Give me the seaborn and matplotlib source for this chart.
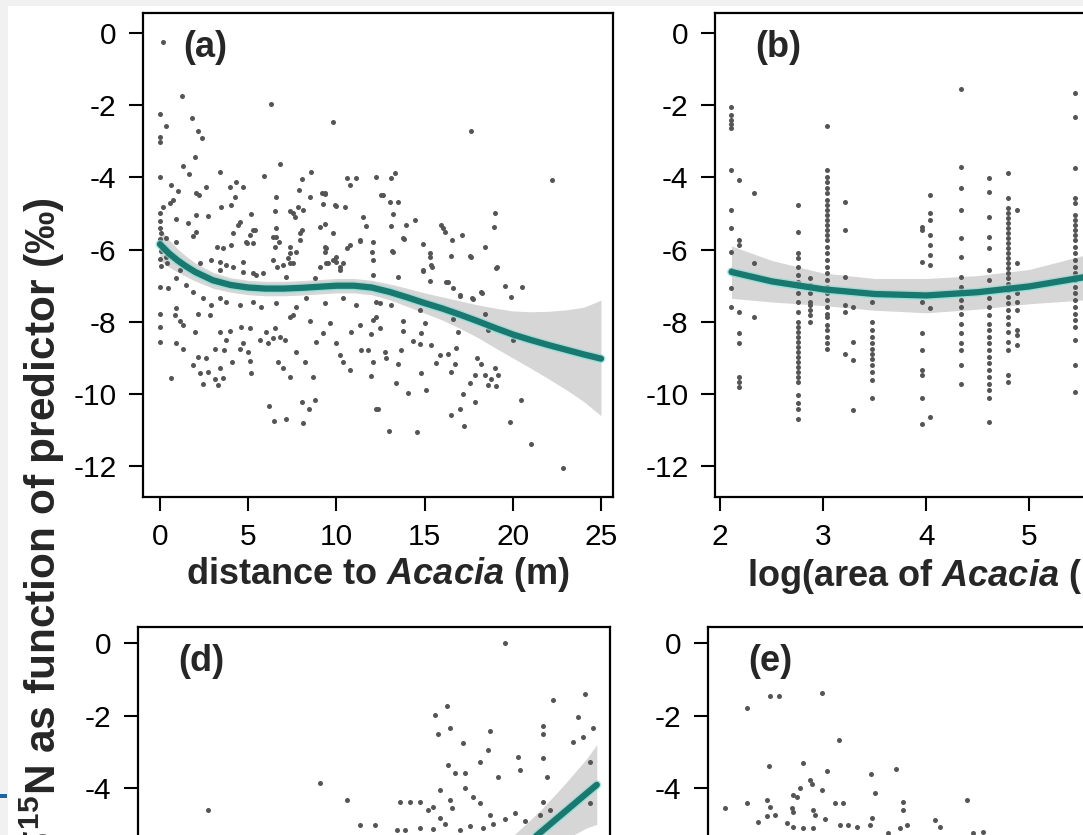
import matplotlib
matplotlib.use("Agg")
import matplotlib.pyplot as plt
from matplotlib.patches import Rectangle
import seaborn as sns
import pandas as pd

# ---- data ----------------------------------------------------------------
# (a) distance to Acacia (m) vs d15N
a_points = [
    (0.17, -0.25), (1.27, -1.76), (6.27, -1.97), (0.0, -2.25), (1.83, -2.36), (9.81, -2.47),
    (0.32, -2.58), (2.15, -2.71), (2.4, -2.92), (0.0, -2.87), (0.0, -3.01), (1.97, -3.45),
    (6.78, -3.63), (1.3, -3.68), (1.64, -3.91), (3.42, -3.86), (8.58, -3.84), (0.0, -4.0),
    (5.88, -3.96), (8.07, -4.05), (10.6, -4.03), (11.13, -4.03), (12.23, -4.0), (0.64, -4.21),
    (2.63, -4.28), (3.99, -4.26), (4.33, -4.12), (4.7, -4.28), (10.75, -4.21), (1.02, -4.38),
    (2.02, -4.42), (2.24, -4.49), (7.88, -4.35), (9.34, -4.42), (6.56, -4.55), (8.48, -4.55),
    (4.23, -4.55), (12.55, -4.49), (0.74, -4.63), (0.59, -4.72), (0.17, -4.81), (3.48, -4.83),
    (4.04, -4.77), (7.35, -4.92), (7.82, -4.81), (8.1, -4.9), (6.5, -4.92), (9.24, -4.74),
    (10.0, -4.79), (10.47, -4.81), (2.06, -5.04), (2.72, -5.07), (5.18, -5.01), (0.93, -5.16),
    (1.59, -5.27), (4.52, -5.23), (4.42, -5.32), (7.54, -5.0), (7.64, -5.09), (11.51, -5.09),
    (11.7, -5.34), (5.37, -5.46), (5.08, -5.6), (6.59, -5.39), (7.92, -5.53), (9.05, -5.37),
    (9.34, -5.29), (2.06, -5.5), (1.87, -5.62), (6.59, -5.64), (6.75, -5.78), (4.9, -5.78),
    (5.27, -5.83), (4.04, -5.87), (3.57, -5.97), (7.35, -6.09), (7.73, -6.06), (9.43, -5.97),
    (9.34, -6.06), (10.75, -5.87), (11.32, -5.73), (12.08, -5.78), (6.5, -5.92), (0.93, -5.78),
    (0.36, -5.69), (0.17, -5.92), (0.0, -5.0), (0.0, -5.2), (0.0, -5.4), (0.05, -5.55),
    (0.0, -5.7), (0.05, -6.05), (0.0, -6.25), (0.05, -6.45),
    (17.65, -2.71), (22.22, -4.07), (13.3, -3.89), (13.07, -4.03), (12.64, -4.49), (13.02, -4.67),
    (13.49, -4.67), (13.21, -5.01), (13.11, -5.34), (13.97, -5.32), (14.47, -5.18), (15.91, -5.32),
    (16.14, -5.5), (13.83, -5.72), (14.91, -5.84), (16.55, -5.73), (17.12, -5.6), (18.97, -4.98),
    (18.93, -5.37), (18.41, -5.94), (13.15, -6.03), (15.29, -6.1), (16.48, -6.17),
    (9.2, -4.43), (9.35, -4.45), (9.92, -4.77), (8.05, -5.46), (12.0, -6.07), (9.5, -6.37),
    (10.2, -6.48), (10.0, -6.2), (14.9, -6.56), (15.4, -6.48), (16.3, -6.9), (17.0, -7.26),
    (17.7, -7.34), (18.25, -7.2), (19.1, -6.48), (17.6, -6.18), (13.78, -5.68), (13.2, -6.07),
    (11.34, -5.76), (16.04, -5.4),
    (0.38, -6.37), (1.13, -6.56), (2.27, -6.37), (3.4, -6.56), (4.14, -6.48), (5.27, -6.65),
    (6.63, -6.48), (7.54, -6.37), (9.07, -6.48), (9.81, -6.29), (3.23, -5.93), (4.14, -5.54),
    (4.93, -5.82), (5.27, -5.46), (6.41, -5.65), (7.37, -5.93), (7.94, -5.73), (9.35, -5.93),
    (9.81, -5.54), (10.6, -5.96),
    (0.36, -6.2), (2.91, -6.29), (3.38, -6.33), (3.76, -6.43), (4.71, -6.33), (6.41, -6.29),
    (6.97, -6.43), (7.35, -6.38), (7.26, -6.24), (9.43, -6.38), (9.99, -6.33), (10.37, -6.38),
    (12.08, -6.29), (10.19, -6.57), (12.08, -6.7), (4.71, -6.61), (5.46, -6.7), (5.84, -6.66),
    (7.16, -6.75), (8.77, -6.8), (0.0, -7.03), (0.45, -7.07), (0.93, -6.8), (1.49, -6.98),
    (1.87, -7.17), (2.44, -7.35), (2.91, -7.54), (3.38, -7.35), (3.76, -7.44), (4.52, -7.54),
    (5.27, -7.44), (5.75, -7.58), (6.59, -7.49), (7.73, -7.58), (8.29, -7.35), (9.33, -7.49),
    (10.37, -7.35), (11.13, -7.54), (12.26, -7.44), (0.0, -7.79), (0.0, -8.14), (0.0, -8.57),
    (0.83, -7.81), (1.11, -7.99), (1.3, -8.09), (0.93, -7.63), (2.15, -7.79), (2.82, -7.81),
    (1.97, -8.27), (3.38, -8.27), (3.95, -8.26), (4.61, -8.14), (5.08, -8.16), (6.03, -8.27),
    (6.5, -8.18), (7.35, -7.86), (7.54, -7.81), (8.48, -7.99), (9.24, -8.32), (9.62, -8.04),
    (10.85, -8.29), (11.32, -8.09), (11.98, -8.35), (12.26, -7.86), (12.08, -7.95), (0.93, -8.6),
    (1.3, -8.74), (2.15, -8.97), (2.63, -9.01), (3.1, -8.74), (3.63, -8.78), (3.76, -8.5),
    (4.52, -8.74), (4.71, -8.6), (4.99, -8.83), (5.65, -8.5), (6.12, -8.6), (6.41, -8.46),
    (6.78, -8.41), (7.07, -8.5), (7.73, -8.83), (8.2, -9.1), (8.86, -8.57), (9.99, -8.6),
    (10.19, -8.92), (10.37, -9.1), (10.75, -9.34), (11.41, -8.78), (11.79, -8.78), (12.08, -9.1),
    (1.87, -9.2), (2.25, -9.43), (2.44, -9.71), (2.72, -9.38), (3.38, -9.29), (3.1, -9.57),
    (3.57, -9.55), (4.1, -9.12), (5.08, -9.09), (5.18, -9.43), (6.69, -9.1), (6.97, -9.27),
    (7.35, -9.52), (8.67, -9.52), (11.98, -9.49), (0.64, -9.55), (3.29, -9.75), (6.18, -10.32),
    (6.44, -10.74), (7.16, -10.69), (8.11, -10.79), (8.07, -10.21), (8.45, -10.4), (8.77, -10.17),
    (12.26, -10.42),
    (15.29, -6.2), (17.65, -6.2), (15.38, -6.43), (14.91, -6.59), (19.07, -6.5), (13.49, -6.75),
    (15.29, -6.87), (16.23, -6.91), (16.61, -7.05), (16.99, -7.28), (17.75, -7.37), (18.22, -7.18),
    (19.54, -7.0), (20.52, -7.03), (19.92, -7.3), (13.12, -7.54), (12.45, -7.49), (14.72, -7.67),
    (16.61, -7.92), (18.41, -7.77), (18.6, -8.23), (20.01, -8.5), (13.78, -7.99), (15.0, -8.04),
    (13.78, -8.26), (12.45, -8.18), (14.82, -8.32), (16.89, -8.29), (14.34, -8.53), (14.72, -8.62),
    (15.38, -8.64), (16.8, -8.72), (12.74, -8.83), (13.68, -8.78), (12.83, -9.01), (15.86, -8.92),
    (16.33, -8.9), (17.99, -8.99), (15.67, -9.15), (16.74, -9.18), (13.49, -9.18), (18.22, -9.18),
    (18.97, -9.29), (19.16, -9.46), (14.82, -9.43), (16.52, -9.38), (17.84, -9.47), (18.41, -9.47),
    (18.78, -9.57), (18.6, -9.75), (19.07, -9.77), (17.56, -9.7), (13.4, -9.68), (14.06, -9.98),
    (15.1, -9.89), (17.18, -10.01), (17.84, -10.21), (20.45, -10.17), (16.99, -10.4), (16.52, -10.58),
    (17.23, -10.88), (19.82, -10.77), (12.96, -11.03), (14.59, -11.04), (21.01, -11.37),
    (12.36, -10.4), (22.85, -12.05),
]
a_fit_x = [0, 0.5, 1, 1.5, 2, 3, 4, 5, 6, 7, 8, 9, 10, 11, 12, 13, 14, 15, 16, 17, 18,
           19, 20, 21, 22, 23, 24, 25]
a_fit = [-5.85, -6.1, -6.3, -6.47, -6.62, -6.85, -6.98, -7.05, -7.08, -7.08, -7.06, -7.03,
         -7.0, -7.0, -7.05, -7.17, -7.32, -7.48, -7.63, -7.8, -7.98, -8.17, -8.35, -8.5,
         -8.64, -8.77, -8.9, -9.02]
a_lo = [-6.3, -6.48, -6.62, -6.75, -6.87, -7.07, -7.18, -7.25, -7.28, -7.28, -7.26, -7.23,
        -7.2, -7.2, -7.25, -7.39, -7.57, -7.76, -7.95, -8.18, -8.43, -8.72, -9.0, -9.28,
        -9.57, -9.87, -10.2, -10.6]
a_hi = [-5.4, -5.72, -5.98, -6.19, -6.37, -6.63, -6.78, -6.85, -6.88, -6.88, -6.86, -6.83,
        -6.8, -6.8, -6.85, -6.95, -7.07, -7.2, -7.31, -7.42, -7.53, -7.62, -7.7, -7.72,
        -7.71, -7.67, -7.6, -7.4]

# (b) log(area of Acacia) vs d15N: values stacked at each tree
b_columns = {
    2.11: [-2.04, -2.27, -2.41, -2.52, -2.64, -3.8, -4.9, -5.41, -6.06, -6.57, -7.07, -7.58],
    2.18: [-4.07, -5.73, -5.87, -7.72, -8.32, -8.6, -9.52, -9.66, -9.8],
    2.33: [-4.42, -6.38, -7.86],
    2.76: [-4.76, -5.5, -6.1, -6.24, -6.47, -6.7, -6.89, -7.21, -7.44, -7.72, -8.0, -8.14, -8.28,
           -8.42, -8.55, -8.69, -8.83, -8.97, -9.11, -9.25, -9.39, -9.52, -9.66, -10.03, -10.26,
           -10.4, -10.68],
    2.87: [-6.8, -6.98, -7.21, -7.44, -7.54, -7.68, -7.82, -8.0],
    3.04: [-2.59, -3.8, -3.98, -4.12, -4.3, -4.44, -4.63, -4.76, -4.9, -5.04, -5.18, -5.32, -5.46,
           -5.6, -5.73, -5.92, -6.1, -6.29, -6.47, -6.66, -6.84, -7.03, -7.21, -7.4, -7.58, -7.77,
           -7.86, -8.09, -8.23, -8.42, -8.6, -8.74],
    3.21: [-4.67, -5.46, -6.75, -7.53, -7.72, -8.88],
    3.29: [-7.58, -8.55, -9.06, -10.45],
    3.47: [-7.44, -8.0, -8.23, -8.42, -8.6, -8.74, -8.88, -9.02, -9.2, -9.39, -9.62, -10.12],
    3.96: [-5.37, -5.46, -6.33, -7.44, -8.32, -8.79, -9.34, -9.48, -10.12, -10.82],
    4.04: [-4.49, -4.99, -5.18, -5.6, -5.87, -6.15, -6.43, -7.63, -10.63],
    4.34: [-1.56, -3.7, -4.3, -4.9, -5.69, -6.2, -6.75, -7.03, -7.21, -7.4, -7.58, -7.77, -8.05,
           -8.32, -8.6, -8.79, -9.2, -9.71],
    4.61: [-4.03, -4.4, -5.09, -5.64, -5.96, -6.57, -6.84, -7.12, -7.35, -7.58, -7.81, -8.05,
           -8.23, -8.42, -8.6, -8.79, -8.97, -9.15, -9.34, -9.52, -9.71, -9.89, -10.12, -10.77],
    4.79: [-3.89, -4.58, -4.86, -4.99, -5.13, -5.27, -5.41, -5.55, -5.69, -5.83, -5.96, -6.1,
           -6.24, -6.38, -6.52, -6.66, -6.8, -6.94, -7.12, -7.3, -7.49, -7.67, -7.86, -8.05,
           -8.28, -8.55, -8.79, -9.48, -9.66],
    4.88: [-4.9, -6.38, -7.21, -7.44, -7.67, -8.23, -8.37, -8.65],
    5.44: [-1.67, -2.32, -3.75, -4.58, -4.72, -5.04, -5.18, -5.32, -5.46, -5.6, -5.73, -5.92,
           -6.1, -6.29, -6.47, -6.66, -6.84, -7.03, -7.21, -7.4, -7.58, -7.77, -7.95, -8.14,
           -8.51, -9.2, -9.94],
}
b_fit_x = [2.11, 2.5, 3.0, 3.5, 4.0, 4.5, 5.0, 5.5, 6.0]
b_fit = [-6.62, -6.88, -7.1, -7.23, -7.27, -7.18, -7.02, -6.78, -6.5]
b_lo = [-7.35, -7.45, -7.55, -7.68, -7.75, -7.65, -7.5, -7.4, -7.3]
b_hi = [-5.9, -6.3, -6.65, -6.8, -6.8, -6.72, -6.55, -6.18, -5.75]

# (d) and (e): only the top of these panels is in view
d_points = [
    (7.78, 0.0), (6.55, -1.74), (6.29, -1.98), (6.61, -2.34), (6.36, -2.5), (6.89, -2.75),
    (7.46, -2.44), (7.42, -2.94), (7.25, -3.27), (6.57, -3.36), (6.72, -3.58), (6.93, -3.58),
    (7.63, -3.69), (8.05, -3.14), (8.09, -3.49), (3.86, -3.86), (4.43, -4.33), (1.48, -4.6),
    (6.4, -4.05), (6.93, -4.0), (7.1, -4.24), (5.55, -4.38), (5.76, -4.38), (5.97, -4.38),
    (6.14, -4.6), (6.25, -4.52), (6.61, -4.33), (6.65, -4.55), (7.25, -4.41), (7.46, -4.74),
    (6.4, -4.82), (8.79, -1.57), (9.47, -1.4), (9.32, -2.03), (9.64, -2.34), (9.22, -2.73),
    (9.43, -2.59), (8.58, -2.29), (8.58, -2.51), (8.58, -3.17), (8.67, -3.69), (9.58, -3.27),
    (8.58, -4.38), (9.58, -4.41), (4.7, -5.01), (5.02, -5.01), (5.49, -5.15), (5.66, -5.15),
    (5.97, -5.1), (6.25, -5.13), (6.5, -5.0), (6.82, -5.15), (7.03, -5.04), (7.31, -5.1),
    (7.52, -5.0), (7.78, -4.85), (7.99, -4.7), (8.2, -4.9), (8.52, -4.75), (8.73, -4.6),
]
d_fit_x = [7.0, 7.5, 8.0, 8.5, 9.0, 9.5, 9.72]
d_fit = [-6.9, -6.35, -5.8, -5.25, -4.7, -4.15, -3.91]
d_lo = [-7.4, -6.85, -6.35, -5.85, -5.45, -5.1, -5.0]
d_hi = [-6.4, -5.85, -5.25, -4.65, -3.95, -3.2, -2.8]

e_points = [
    (0.83, -1.79), (1.31, -1.45), (1.5, -1.45), (2.42, -1.38), (2.78, -2.67), (1.29, -3.39),
    (2.01, -3.3), (2.52, -3.53), (2.16, -3.77), (2.2, -3.88), (1.95, -3.99), (1.8, -4.19),
    (1.89, -4.24), (2.42, -4.05), (3.45, -3.61), (3.98, -3.47), (3.54, -4.13), (0.36, -4.55),
    (0.83, -4.41), (1.25, -4.33), (1.31, -4.52), (1.78, -4.55), (1.8, -4.66), (2.22, -4.6),
    (2.27, -4.74), (2.69, -4.41), (2.86, -4.41), (4.13, -4.38), (4.13, -4.6), (5.49, -4.33),
    (1.06, -4.93), (1.25, -4.77), (1.42, -4.74), (1.67, -4.96), (1.8, -5.07), (2.01, -5.1),
    (2.22, -5.1), (2.48, -4.85), (2.8, -5.01), (2.97, -5.01), (3.16, -5.07), (3.47, -4.82),
    (3.43, -5.01), (3.81, -5.23), (4.07, -5.1), (4.22, -5.01), (4.81, -4.88), (4.92, -5.07),
    (5.61, -5.23), (5.83, -5.2),
]

y_ticks = [0, -2, -4, -6, -8, -10, -12]
a_xticks = [0, 5, 10, 15, 20, 25]
b_xticks = [2, 3, 4, 5, 6]

# ---- style ---------------------------------------------------------------
sns.set_style("white")
plt.rcParams["font.family"] = ["Liberation Sans", "DejaVu Sans"]
plt.rcParams["axes.unicode_minus"] = False
plt.rcParams["mathtext.fontset"] = "custom"
plt.rcParams["mathtext.rm"] = "Liberation Sans:bold"
plt.rcParams["mathtext.bf"] = "Liberation Sans:bold"
plt.rcParams["mathtext.it"] = "Liberation Sans:italic:bold"

teal = "#17796f"
dot = "#555555"
band = "#cfcfcf"

W, H = 1083, 835
fig = plt.figure(figsize=(W / 100, H / 100), dpi=100, facecolor="#f1f1f1")
fig.add_artist(Rectangle((8 / W, 0), 1, 1 - 6 / H, transform=fig.transFigure,
                         facecolor="white", edgecolor="none", zorder=0))


def make_ax(left, top, width, xlim, ylim, xticks):
    ax = fig.add_axes([left / W, 1 - (top + 484) / H, width / W, 484 / H])
    ax.set_xlim(xlim)
    ax.set_ylim(ylim)
    ax.set_xticks(xticks)
    ax.set_yticks(y_ticks)
    for s in ax.spines.values():
        s.set_visible(True)
        s.set_color("black")
        s.set_linewidth(1.6)
    ax.tick_params(direction="out", length=10, width=1.5, pad=9, labelsize=21.5,
                   bottom=True, left=True, colors="black")
    return ax


def draw(ax, x, y, fx=None, fy=None, lo=None, hi=None):
    if fx is not None:
        ax.fill_between(fx, lo, hi, color=band, alpha=0.85, linewidth=0, zorder=1)
    sns.scatterplot(x=x, y=y, ax=ax, color=dot, s=13, linewidth=0, zorder=2)
    if fx is not None:
        sns.lineplot(x=fx, y=fy, ax=ax, color="#8fdcd5", linewidth=6.5, alpha=0.7, zorder=3)
        sns.lineplot(x=fx, y=fy, ax=ax, color=teal, linewidth=4.5, zorder=4)


ax_a = make_ax(143, 13, 470, (-0.96, 25.68), (-12.85, 0.55), a_xticks)
draw(ax_a, [p[0] for p in a_points], [p[1] for p in a_points], a_fit_x, a_fit, a_lo, a_hi)

bx = [k for k, v in b_columns.items() for _ in v]
by = [yy for v in b_columns.values() for yy in v]
ax_b = make_ax(715, 13, 470, (1.95, 6.51), (-12.85, 0.55), b_xticks)
draw(ax_b, bx, by, b_fit_x, b_fit, b_lo, b_hi)

ax_d = make_ax(138, 627, 472, (0, 10), (-12.9, 0.44), [0, 5, 10])
draw(ax_d, [p[0] for p in d_points], [p[1] for p in d_points], d_fit_x, d_fit, d_lo, d_hi)

ax_e = make_ax(708, 627, 472, (0, 10), (-12.9, 0.44), [0, 5, 10])
draw(ax_e, [p[0] for p in e_points], [p[1] for p in e_points])

xlabels = {ax_a: r"distance to $\mathit{Acacia}$ (m)",
           ax_b: r"log(area of $\mathit{Acacia}$ (m$^2$))"}
for ax, lab in xlabels.items():
    ax.set_xlabel(lab, fontsize=26, fontweight="bold")
    ax.xaxis.set_label_coords(0.5, -0.161)
    ax.xaxis.label.set_va("center")
for ax in (ax_d, ax_e):
    ax.set_xlabel("")
for ax in (ax_a, ax_b, ax_d, ax_e):
    ax.set_ylabel("")

for ax, lab in zip((ax_a, ax_b, ax_d, ax_e), ("(a)", "(b)", "(d)", "(e)")):
    ax.text(0.085, 0.928, lab, transform=ax.transAxes, ha="left", va="center",
            fontsize=26, fontweight="bold")

fig.text(42 / W, 1 - 197 / H, r"$\delta^{15}$N as function of predictor (‰)", rotation=90,
         ha="center", va="top", fontsize=30.5, fontweight="bold")

# small blue mark on the left edge of the page
fig.add_artist(Rectangle((0, 1 - 798 / H), 7 / W, 4 / H, transform=fig.transFigure,
                         facecolor="#1f63a8", edgecolor="none", zorder=5))

fig.savefig("out.png", dpi=100, facecolor=fig.get_facecolor())
